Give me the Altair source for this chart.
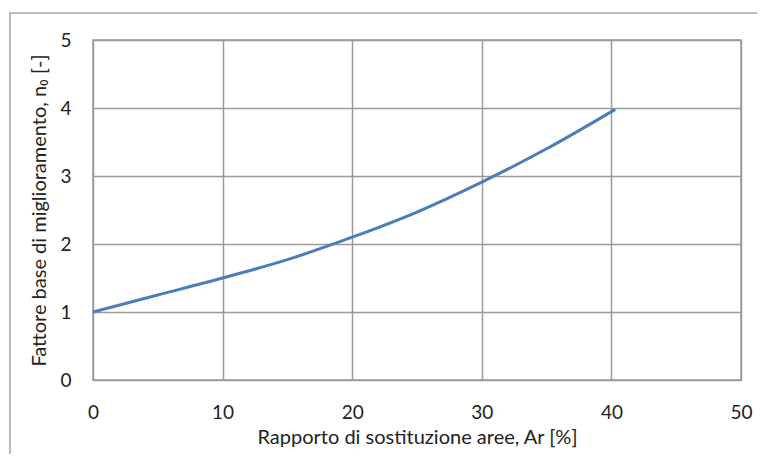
import altair as alt
import pandas as pd

ar = [0, 5, 10, 15, 20, 25, 30, 35, 40.3]
n0 = [1.0, 1.25, 1.5, 1.77, 2.1, 2.47, 2.91, 3.40, 3.98]

df = pd.DataFrame({"Ar": ar, "n0": n0})

FONT = "Lato"
GRID = "#9a9a9a"

frame = alt.Chart(pd.DataFrame({"a": [0]})).mark_rect(
    fill=None, stroke="#a6a6a6", strokeWidth=1.5, clip=False
).encode(
    x=alt.value(-83), x2=alt.value(720), y=alt.value(-27), y2=alt.value(470)
)

line = alt.Chart(df).mark_line(
    color="#4a7ebb", strokeWidth=3, interpolate="monotone"
).encode(
    x=alt.X("Ar:Q", scale=alt.Scale(domain=[0, 50], nice=False),
            axis=alt.Axis(values=[0, 10, 20, 30, 40, 50], labelFlush=False,
                          title="Rapporto di sostituzione aree, Ar [%]")),
    y=alt.Y("n0:Q", scale=alt.Scale(domain=[0, 5], nice=False),
            axis=alt.Axis(values=[0, 1, 2, 3, 4, 5], labelFlush=False,
                          title="Fattore base di miglioramento, n₀ [-]")),
)

chart = alt.layer(frame, line).properties(
    width=648, height=340,
    autosize=alt.AutoSizeParams(type="none"),
    padding={"left": 85, "top": 32, "right": 16, "bottom": 74},
).configure_view(
    stroke=GRID, strokeWidth=1.5
).configure_axis(
    grid=True, gridColor=GRID, gridWidth=1.5, gridOpacity=1,
    domain=False, ticks=False,
    labelFont=FONT, labelFontSize=19, labelColor="#222222",
    titleFont=FONT, titleFontSize=20, titleFontWeight="normal", titleColor="#222222",
).configure_axisX(
    labelPadding=23, titlePadding=5,
).configure_axisY(
    labelPadding=22, titlePadding=10,
)

chart.save("out.html", embed_options={"renderer": "svg", "actions": False})
